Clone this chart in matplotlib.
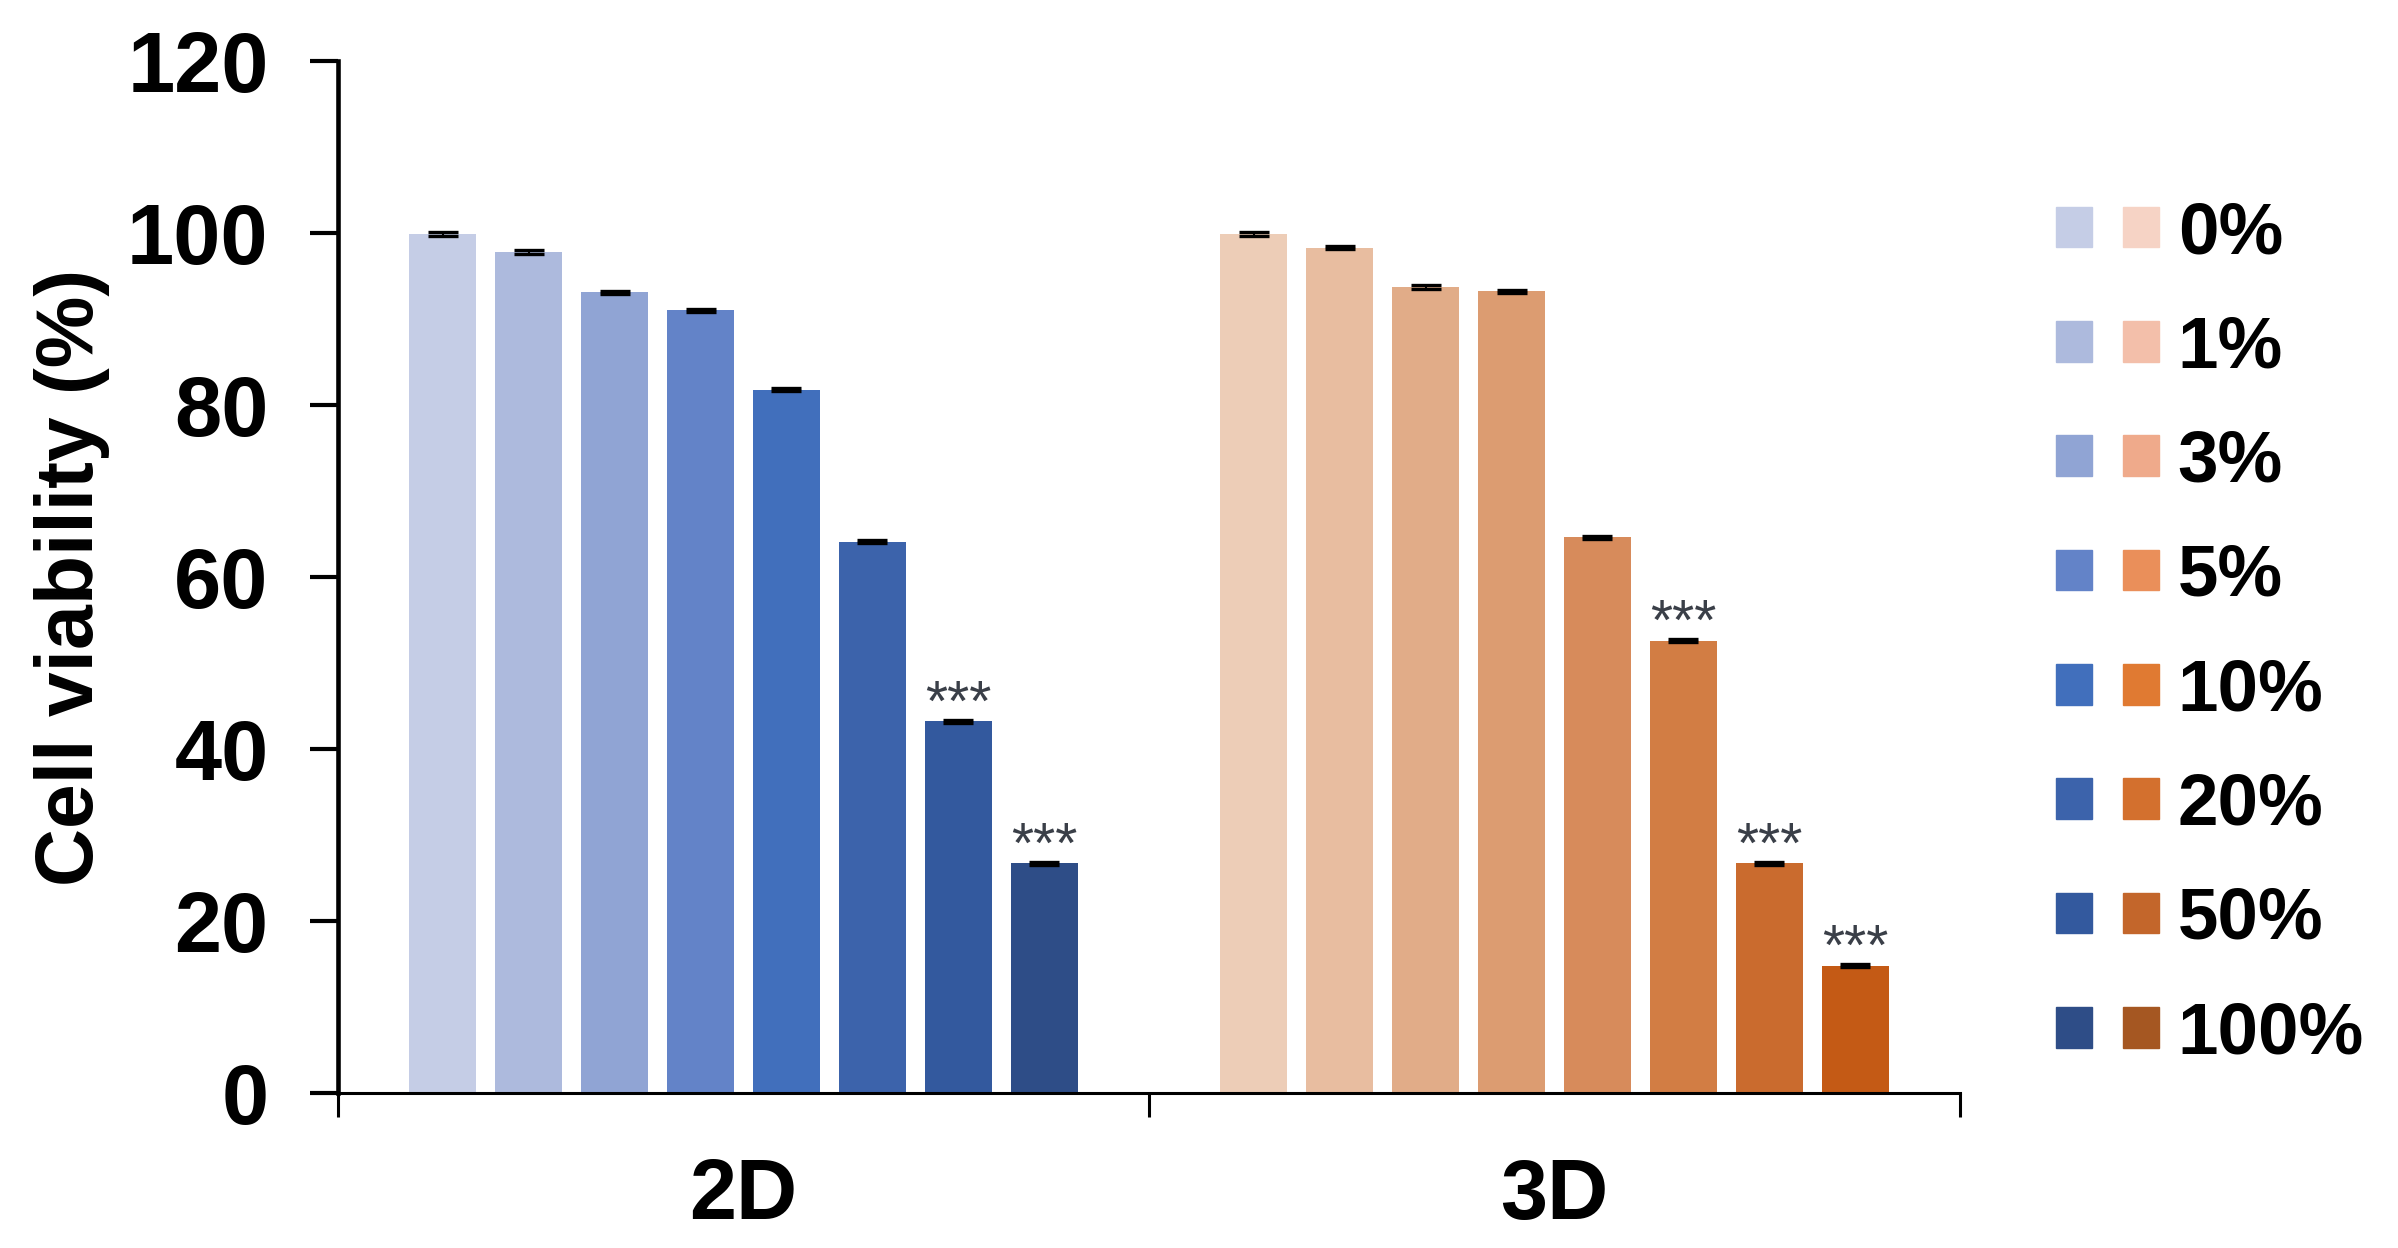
import matplotlib
matplotlib.use("Agg")
import matplotlib.pyplot as plt
from matplotlib.patches import Patch
from matplotlib.legend_handler import HandlerTuple
import numpy as np

plt.rcParams['font.family'] = ['Liberation Sans', 'DejaVu Sans']

groups = ['2D', '3D']
concentrations = ['0%', '1%', '3%', '5%', '10%', '20%', '50%', '100%']
viability_2d = [99.9, 97.8, 93.1, 91.0, 81.8, 64.1, 43.2, 26.7]
viability_3d = [99.9, 98.3, 93.7, 93.2, 64.6, 52.6, 26.7, 14.8]
err_2d = [0.2, 0.2, 0.2, 0.2, 0.2, 0.2, 0.2, 0.2]
err_3d = [0.2, 0.2, 0.2, 0.2, 0.2, 0.2, 0.2, 0.2]
sig_2d = ['', '', '', '', '', '', '***', '***']
sig_3d = ['', '', '', '', '', '***', '***', '***']

bar_blue = ['#C5CDE6', '#ADBADD', '#90A4D4', '#6383C8', '#416FBC', '#3C63AB', '#33599E', '#2E4D87']
bar_orange = ['#EDCDB7', '#E8BDA0', '#E1AC88', '#DC9C71', '#D78B5B', '#D27D44', '#CA6B2E', '#C45A15']
leg_blue = bar_blue
leg_orange = ['#F6D3C5', '#F3BFAA', '#EFAA8B', '#EA8F5A', '#E07A32', '#D3702E', '#C3662B', '#A55722']

W, H = 2398, 1248
fig = plt.figure(figsize=(W / 100, H / 100), dpi=100)
ax = fig.add_axes([338 / W, 1 - 1093 / H, (1960 - 338) / W, (1093 - 61) / H])

pitch = 0.106
width = 0.0834
n = len(concentrations)
offsets = (np.arange(n) - (n - 1) / 2) * pitch

for g, (vals, errs, sigs, cols) in enumerate([(viability_2d, err_2d, sig_2d, bar_blue),
                                             (viability_3d, err_3d, sig_3d, bar_orange)]):
    x = g + 0.5 + offsets
    ax.bar(x, vals, width=width, color=cols, zorder=2)
    ax.errorbar(x, vals, yerr=errs, fmt='none', ecolor='black', elinewidth=1.5,
                capsize=11, capthick=2.4, zorder=3)
    for xi, v, s in zip(x, vals, sigs):
        if s:
            # stars sit just above each significant bar
            ax.text(xi, v + 0.1, s, ha='center', va='baseline', fontsize=41,
                    color='#3a3f48', zorder=4)

ax.set_xlim(0, 2)
ax.set_ylim(0, 120)
ax.set_yticks(np.arange(0, 121, 20))
for side in ['top', 'right']:
    ax.spines[side].set_visible(False)
ax.spines['left'].set_linewidth(3.3)
ax.spines['bottom'].set_linewidth(2.2)

ax.set_xticks([0, 1, 2])
ax.set_xticklabels([])
ax.set_xticks([0.5, 1.5], minor=True)
ax.set_xticklabels(groups, minor=True, fontsize=61, fontweight='bold')
ax.tick_params(axis='x', which='major', direction='out', length=17, width=2.2)
ax.tick_params(axis='x', which='minor', length=0, pad=46)
ax.tick_params(axis='y', direction='out', length=20, width=3, pad=30, labelsize=61)
for lab in ax.get_yticklabels():
    lab.set_fontweight('bold')

ax.set_ylabel('Cell viability (%)', fontsize=58, fontweight='bold', labelpad=12)

handles = [(Patch(color=b), Patch(color=o)) for b, o in zip(leg_blue, leg_orange)]
fig.legend(handles, concentrations, handler_map={tuple: HandlerTuple(ndivide=None, pad=0.425)},
           loc='upper left', bbox_to_anchor=(2056 / W, 1 - 200 / H), frameon=False,
           borderpad=0, borderaxespad=0, handlelength=1.41, handleheight=0.48,
           handletextpad=0.26, labelspacing=0.635,
           prop={'size': 52.5, 'weight': 'bold'})

fig.savefig('out.png', dpi=100, facecolor='white')
